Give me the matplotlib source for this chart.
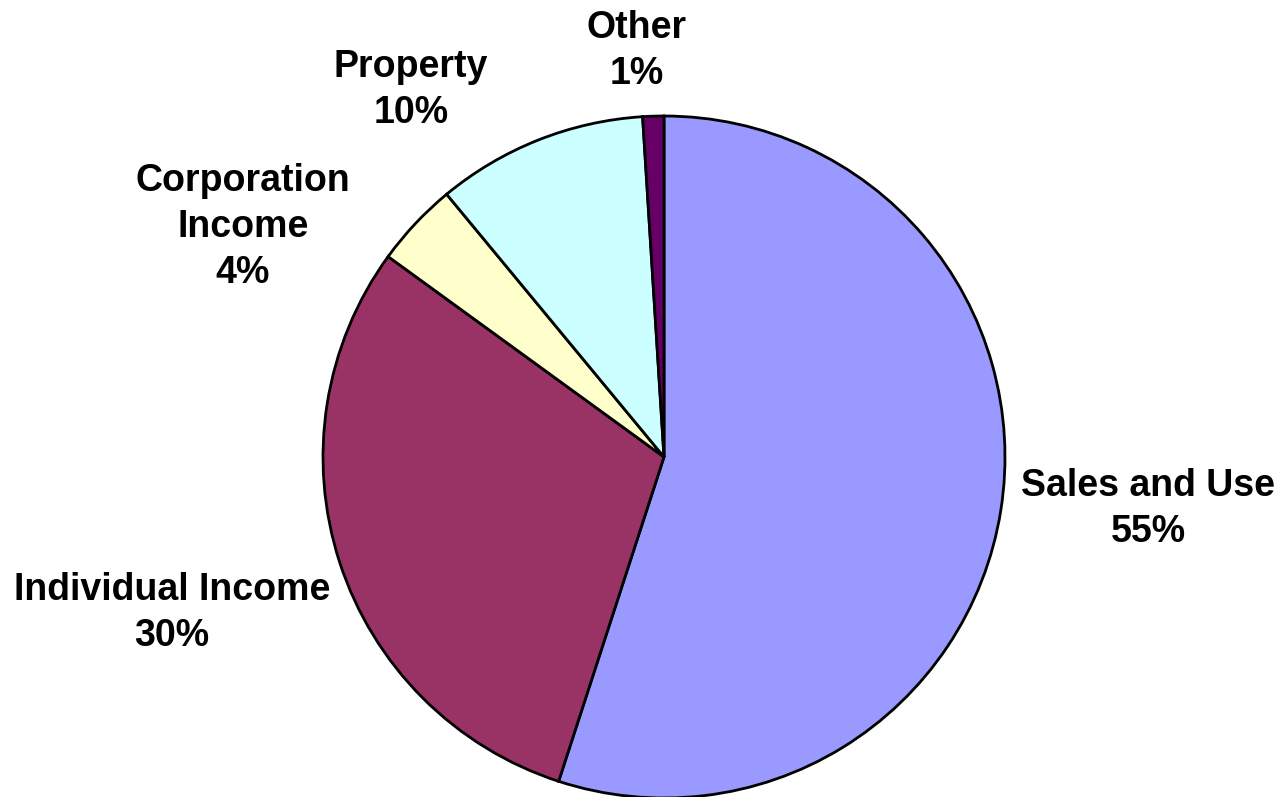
import matplotlib
matplotlib.use("Agg")
import matplotlib.pyplot as plt

# revenue shares by source
sources = ["Sales and Use", "Individual Income", "Corporation\nIncome", "Property", "Other"]
shares = [55, 30, 4, 10, 1]
colors = ["#9999FF", "#993366", "#FFFFCC", "#CCFFFF", "#660066"]

# where each label sits (pixels, origin bottom-left)
label_xy = [(1148, 288), (172, 184), (243, 570), (411, 707), (637, 746)]

plt.rcParams["font.family"] = ["Liberation Sans", "DejaVu Sans"]

fig = plt.figure(figsize=(12.88, 7.97), dpi=100)
ax = fig.add_axes([0, 0, 1, 1])

ax.pie(shares, colors=colors, startangle=90, counterclock=False,
       center=(664, 340), radius=341, frame=True,
       wedgeprops=dict(edgecolor="black", linewidth=2.0))
ax.set_xlim(0, 1288)
ax.set_ylim(0, 797)
ax.set_aspect("equal")
ax.axis("off")

for name, val, (x, y) in zip(sources, shares, label_xy):
    ax.text(x, y, f"{name}\n{val}%", ha="center", va="center",
            fontsize=27, fontweight="bold", linespacing=1.36)

fig.savefig("out.png", dpi=100)
